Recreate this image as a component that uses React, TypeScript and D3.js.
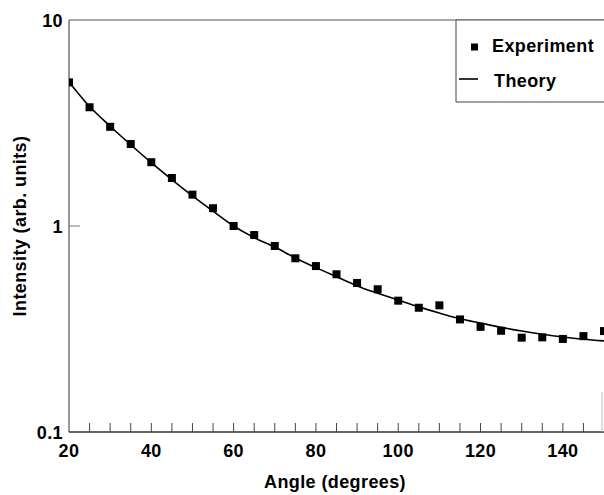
import React from "react";
import * as d3 from "d3";

const angles = [20, 25, 30, 35, 40, 45, 50, 55, 60, 65, 70, 75, 80, 85, 90, 95, 100, 105, 110, 115, 120, 125, 130, 135, 140, 145, 150];
const experiment = [4.98, 3.77, 3.03, 2.5, 2.04, 1.71, 1.42, 1.22, 1.0, 0.904, 0.8, 0.697, 0.639, 0.583, 0.529, 0.493, 0.434, 0.401, 0.412, 0.352, 0.324, 0.31, 0.287, 0.288, 0.283, 0.292, 0.309];
const theory = [5.0, 3.8, 3.05, 2.48, 2.03, 1.68, 1.4, 1.18, 1.0, 0.878, 0.79, 0.7, 0.628, 0.567, 0.512, 0.472, 0.437, 0.405, 0.378, 0.355, 0.338, 0.322, 0.309, 0.298, 0.289, 0.282, 0.277];
const xTickLabels = [20, 40, 60, 80, 100, 120, 140];
const xMinorTicks = d3.range(25, 150, 5);
const yTickLabels = [0.1, 1, 10];
const legendLabels = ["Experiment", "Theory"];

const W = 604;
const H = 495;
const FONT = "'Liberation Sans', Arial, Helvetica, sans-serif";

export default function App() {
  const x = d3.scaleLinear().domain([20, 150]).range([69, 604]);
  const y = d3.scaleLog().domain([0.1, 10]).range([432, 20]);
  const x0 = x(20), x1 = 602, yTop = y(10), yBot = y(0.1);

  const line = d3
    .line<number>()
    .x((_, i) => x(angles[i]))
    .y((d) => y(d))
    .curve(d3.curveCatmullRom);

  const ms = 8;
  const textStyle = { fontFamily: FONT, fontWeight: 700, fontSize: 18, letterSpacing: 0.4 } as const;

  return (
    <svg width={W} height={H} style={{ position: "absolute", left: 0, top: 0, background: "#fff" }}>
      <defs>
        <clipPath id="plot">
          <rect x={x0} y={yTop - 6} width={W - x0} height={yBot - yTop + 12} />
        </clipPath>
      </defs>
      {/* frame */}
      <line x1={x0} x2={W} y1={yTop} y2={yTop} stroke="#555" strokeWidth={1.2} />
      <line x1={x0} x2={x0} y1={yTop} y2={yBot} stroke="#555" strokeWidth={1.2} />
      <line x1={x0} x2={W} y1={yBot} y2={yBot} stroke="#333" strokeWidth={1.4} />
      <line x1={x1} x2={x1} y1={yBot - 40} y2={yBot} stroke="#bbb" strokeWidth={1} />
      {/* x ticks */}
      {xMinorTicks.map((t) => (
        <line key={t} x1={x(t)} x2={x(t)} y1={yBot} y2={yBot - 9} stroke="#444" strokeWidth={1} />
      ))}
      {/* y tick at 1 */}
      <line x1={x0} x2={x0 + 11} y1={y(1)} y2={y(1)} stroke="#777" strokeWidth={1} />
      {/* tick labels */}
      {xTickLabels.map((t) => (
        <text key={t} x={x(t)} y={457} textAnchor="middle" style={textStyle}>
          {t}
        </text>
      ))}
      {yTickLabels.map((t) => (
        <text key={t} x={63} y={y(t) + 6.5} textAnchor="end" style={textStyle}>
          {t}
        </text>
      ))}
      {/* axis titles */}
      <text x={335} y={488} textAnchor="middle" style={textStyle}>
        Angle (degrees)
      </text>
      <text transform={`translate(26,${(yTop + yBot) / 2}) rotate(-90)`} textAnchor="middle" style={textStyle}>
        Intensity (arb. units)
      </text>
      {/* data */}
      <g clipPath="url(#plot)">
        <path d={line(theory) || ""} fill="none" stroke="#000" strokeWidth={1.6} />
        {experiment.map((v, i) => (
          <rect key={i} x={x(angles[i]) - ms / 2} y={y(v) - ms / 2} width={ms} height={ms} fill="#000" />
        ))}
      </g>
      {/* legend */}
      <g>
        <rect x={456} y={yTop} width={W - 456 + 2} height={102 - yTop} fill="#fff" stroke="none" />
        <line x1={456} x2={456} y1={yTop} y2={102} stroke="#444" strokeWidth={1} />
        <line x1={456} x2={W} y1={102} y2={102} stroke="#444" strokeWidth={1} />
        <line x1={456} x2={W} y1={yTop} y2={yTop} stroke="#555" strokeWidth={1.2} />
        <rect x={471} y={43.5} width={7} height={7} fill="#000" />
        <text x={492} y={52} style={textStyle}>
          {legendLabels[0]}
        </text>
        <line x1={459} x2={478} y1={79} y2={79} stroke="#000" strokeWidth={1.6} />
        <text x={494} y={87} style={textStyle}>
          {legendLabels[1]}
        </text>
      </g>
    </svg>
  );
}
